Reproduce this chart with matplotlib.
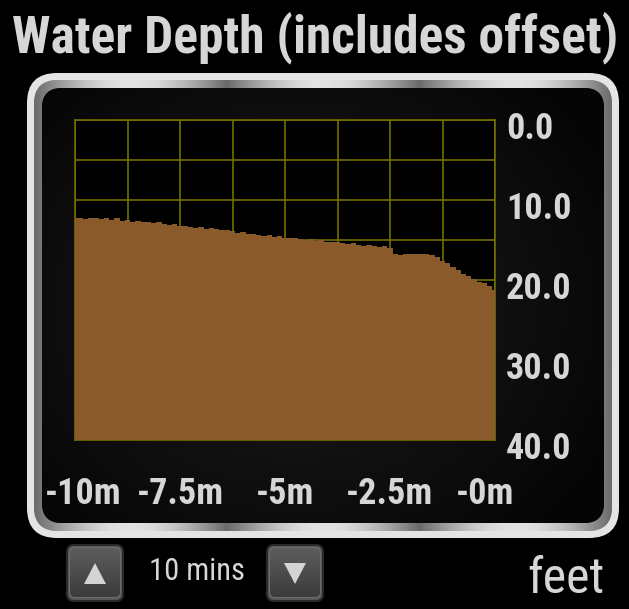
import numpy as np
import matplotlib.pyplot as plt
from matplotlib.patches import FancyBboxPatch, Polygon
from matplotlib.colors import LinearSegmentedColormap
from matplotlib.transforms import ScaledTranslation
from matplotlib import font_manager

# last 10 minutes of water depth readings (feet), one every 7.5 s
minutes = np.linspace(-10, 0, 81)
depth_ft = [
    12.3, 12.2, 12.4, 12.3, 12.2, 12.4, 12.3, 12.5, 12.2, 12.6,
    12.5, 12.7, 12.6, 12.8, 12.7, 12.9, 12.8, 13.0, 13.1, 13.0,
    13.3, 13.2, 13.4, 13.5, 13.4, 13.6, 13.5, 13.6, 13.8, 13.7,
    13.9, 14.1, 14.0, 14.3, 14.2, 14.4, 14.5, 14.4, 14.6, 14.5,
    14.7, 14.8, 14.7, 14.9, 15.0, 14.9, 15.1, 15.0, 15.2, 15.3,
    15.2, 15.4, 15.5, 15.4, 15.6, 15.7, 15.6, 15.8, 15.9, 15.8,
    16.0, 16.8, 16.9, 16.8, 16.7, 16.8, 16.7, 16.8, 16.9, 17.1,
    17.6, 17.9, 18.4, 18.7, 19.2, 19.5, 19.9, 20.2, 20.4, 20.8,
    21.2,
]
x_ticks = [-10, -7.5, -5, -2.5, 0]
x_labels = ['-10m', '-7.5m', '-5m', '-2.5m', '-0m']
y_ticks = [0, 10, 20, 30, 40]
y_labels = ['0.0', '10.0', '20.0', '30.0', '40.0']
max_depth = 40
window_label = '10 mins'
unit_label = 'feet'

# pick a narrow sans face
names = {f.name for f in font_manager.fontManager.ttflist}
narrow = 'Liberation Sans'
for cand in ['Liberation Sans Narrow', 'Roboto Condensed', 'Archivo Narrow',
             'PT Sans Narrow', 'Barlow Semi Condensed']:
    if cand in names:
        narrow = cand
        break
text_color = '#d6d6d6'
W, H = 629, 609

fig = plt.figure(figsize=(W / 100, H / 100), dpi=100, facecolor='black')

# full-figure canvas in pixel coordinates for the bezel and buttons
bg = fig.add_axes([0, 0, 1, 1])
bg.set_xlim(0, W)
bg.set_ylim(H, 0)
bg.axis('off')

def rounded(x0, y0, x1, y1, r, **kw):
    p = FancyBboxPatch((x0 + r, y0 + r), x1 - x0 - 2 * r, y1 - y0 - 2 * r,
                       boxstyle=f'round,pad={r}', **kw)
    bg.add_patch(p)
    return p

rounded(27, 73, 619, 538, 30, fc='#e4e4e4', ec='none')
rim = rounded(34, 80, 612, 531, 24, fc='#8c8c8c', ec='none')
# silver sheen on the rim
sheen = np.abs(np.sin(np.linspace(0, 3 * np.pi, 400)))[None, :]
im = bg.imshow(sheen, extent=[34, 612, 531, 80], cmap='gray', vmin=-0.9, vmax=1.25,
               aspect='auto', zorder=1)
im.set_clip_path(rim)
inner = rounded(42, 88, 604, 523, 20, fc='#101010', ec='none', zorder=2)
yy, xx = np.mgrid[0:1:200j, 0:1:200j]
glow = np.clip(1 - np.hypot((xx - 0.45) * 1.1, yy - 0.5) * 1.4, 0, 1)
dark = LinearSegmentedColormap.from_list('panel', ['#050505', '#1d1d1d'])
im2 = bg.imshow(glow, extent=[42, 604, 523, 88], cmap=dark, aspect='auto', zorder=3)
im2.set_clip_path(inner)

# up / down buttons
btn = LinearSegmentedColormap.from_list('btn', ['#3c3c3c', '#5c5c5c'])
for x0, pts in [(67, [(84, 584), (106, 584), (95, 563)]),
                (267, [(284, 563), (306, 563), (295, 584)])]:
    rounded(x0, 545, x0 + 56, 601, 7, fc='#5a5a5a', ec='#2a2a2a', lw=1.5, zorder=2)
    face = rounded(x0 + 3, 548, x0 + 53, 597, 5, fc='#464646', ec='#707070', lw=1.2, zorder=3)
    shade = bg.imshow(np.linspace(1, 0, 50)[:, None], extent=[x0 + 3, x0 + 53, 597, 548],
                      cmap=btn, aspect='auto', zorder=3.5)
    shade.set_clip_path(face)
    bg.add_patch(Polygon(pts, closed=True, fc='#d4d4d4', ec='none', zorder=4))

fig.text(12, H - 52, 'Water Depth (includes offset)', transform=None,
         family=narrow, weight='bold', fontsize=37, color=text_color, va='baseline')
fig.text(197, H - 572, window_label, transform=None, family=narrow,
         fontsize=22, color=text_color, ha='center', va='center')
fig.text(605, H - 593, unit_label, transform=None, family=narrow,
         fontsize=36, color=text_color, ha='right', va='baseline')

# depth chart
ax = fig.add_axes([75 / W, (H - 440) / H, 420 / W, 320 / H], facecolor='black')
ax.fill_between(minutes, depth_ft, max_depth, step='mid', color='#8b5a2b',
                lw=0, zorder=3)
ax.set_xlim(-10, 0)
ax.set_ylim(max_depth, 0)
ax.set_xticks(np.arange(-10, 0.01, 1.25), minor=True)
ax.set_yticks(np.arange(0, 41, 5), minor=True)
ax.grid(which='both', color='#707000', lw=1.2)
ax.set_axisbelow(True)
for s in ax.spines.values():
    s.set_color('#707000')
    s.set_linewidth(1.2)
ax.tick_params(which='both', length=0)
ax.set_xticks(x_ticks, x_labels)
ax.set_yticks(y_ticks, y_labels)
ax.yaxis.tick_right()
ax.tick_params(axis='y', pad=8)
ax.tick_params(axis='x', pad=26)
for lab in ax.get_xticklabels() + ax.get_yticklabels():
    lab.set_family(narrow)
    lab.set_weight('bold')
    lab.set_fontsize(26)
    lab.set_color(text_color)
for lab in ax.get_yticklabels():
    lab.set_transform(lab.get_transform() + ScaledTranslation(0, -5 / 100, fig.dpi_scale_trans))
xl = ax.get_xticklabels()
xl[0].set_transform(xl[0].get_transform() + ScaledTranslation(8 / 100, 0, fig.dpi_scale_trans))
xl[-1].set_transform(xl[-1].get_transform() + ScaledTranslation(-10 / 100, 0, fig.dpi_scale_trans))

fig.savefig('out.png', dpi=100, facecolor='black')
